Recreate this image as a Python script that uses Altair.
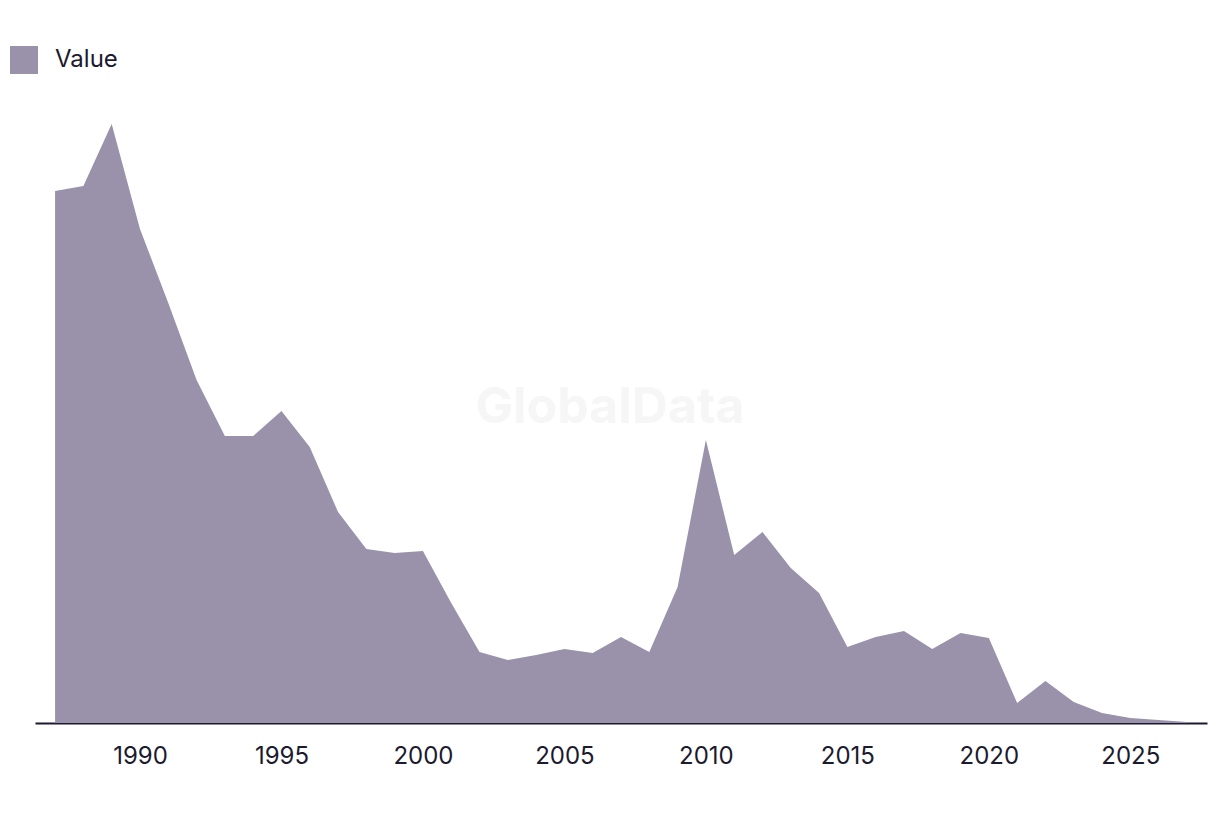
import altair as alt
import pandas as pd

years = list(range(1987, 2028))
values = [532, 537, 599, 494, 420, 343, 287, 287, 312, 276, 211, 174, 170, 172,
          120, 71, 63, 68, 74, 70, 86, 71, 136, 283, 168, 191, 155, 130,
          76, 86, 92, 74, 90, 85, 20, 42, 21, 10, 5, 3, 1]
series = ["Value"] * len(years)
tick_years = [1990, 1995, 2000, 2005, 2010, 2015, 2020, 2025]
watermark = ["GlobalData"]

df = pd.DataFrame({"Year": years, "Value": values, "Series": series})
wm = pd.DataFrame({"label": watermark})

FILL = "#9a91aa"
INK = "#1c1a2e"
FONT = "Inter"

area = alt.Chart(df).mark_area(color=FILL, opacity=1).encode(
    x=alt.X("Year:Q",
            scale=alt.Scale(domain=[1986.29, 2027.71], nice=False, zero=False),
            axis=alt.Axis(values=tick_years, format="d", title=None, ticks=False,
                          grid=False, domainColor=INK, domainWidth=2,
                          labelFontSize=24, labelColor=INK, labelFont=FONT,
                          labelPadding=21)),
    y=alt.Y("Value:Q", scale=alt.Scale(domain=[0, 623], nice=False), axis=None),
    color=alt.Color("Series:N",
                    scale=alt.Scale(domain=["Value"], range=[FILL]),
                    legend=alt.Legend(title=None, orient="none", legendX=-25, legendY=-54,
                                      symbolType="square", symbolSize=784,
                                      symbolStrokeWidth=0, symbolOpacity=1,
                                      labelFontSize=24, labelColor=INK, labelFont=FONT,
                                      labelOffset=17, padding=0)),
)

mark_wm = alt.Chart(wm).mark_text(fontSize=50, fontWeight="bold", color="#f6f6f6",
                                  font=FONT).encode(
    text="label:N", x=alt.value(575), y=alt.value(308))

chart = (mark_wm + area).properties(
    width=1172, height=623,
    padding={"left": 27, "top": 92, "right": 5, "bottom": 80},
    autosize=alt.AutoSizeParams(type="none"),
    background="white",
).configure_view(stroke=None)

chart.save("out.html", embed_options={"renderer": "svg", "actions": False})
